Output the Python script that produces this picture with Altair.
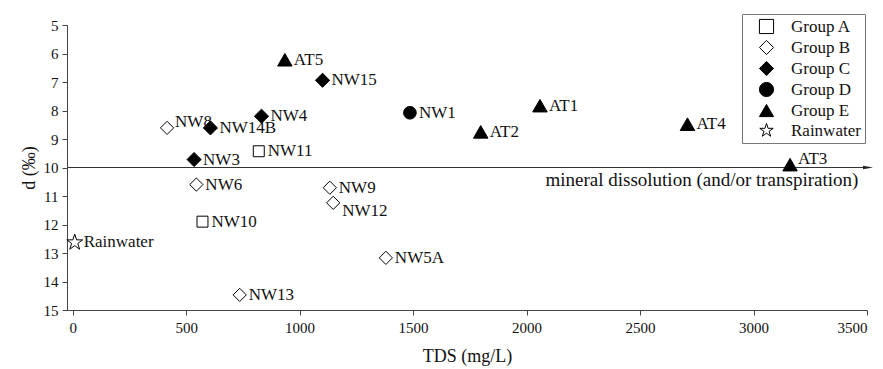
import altair as alt
import pandas as pd

# ---- data ----
labels = ["NW11", "NW10",
          "NW8", "NW6", "NW9", "NW12", "NW5A", "NW13",
          "NW14B", "NW4", "NW3", "NW15",
          "NW1",
          "AT5", "AT1", "AT2", "AT4", "AT3",
          "Rainwater"]
groups = ["Group A", "Group A",
          "Group B", "Group B", "Group B", "Group B", "Group B", "Group B",
          "Group C", "Group C", "Group C", "Group C",
          "Group D",
          "Group E", "Group E", "Group E", "Group E", "Group E",
          "Rainwater"]
tds = [820, 572,
       416, 545, 1133, 1148, 1380, 736,
       607, 832, 535, 1101,
       1486,
       935, 2059, 1798, 2709, 3161,
       9]
delta = [9.43, 11.9,
         8.61, 10.6, 10.71, 11.24, 13.17, 14.47,
         8.61, 8.2, 9.72, 6.94,
         8.08,
         6.22, 7.83, 8.75, 8.48, 9.9,
         12.63]

STAR = ("M0,-1L0.225,-0.309L0.951,-0.309L0.363,0.118L0.588,0.809L0,0.382"
        "L-0.588,0.809L-0.363,0.118L-0.951,-0.309L-0.225,-0.309Z")
group_order = ["Group A", "Group B", "Group C", "Group D", "Group E", "Rainwater"]
group_shapes = ["square", "diamond", "diamond", "circle", "triangle-up", STAR]
group_fills = ["white", "white", "black", "black", "black", "white"]
group_strokes = ["black", "black", "black", "black", "black", "black"]
group_sizes = [120, 175, 200, 160, 210, 280]

labels_above = ["NW8", "AT3"]
labels_below = ["NW12"]

arrow_y = [10]
arrow_x = [-25, 3500]
note_text = ["mineral dissolution (and/or transpiration)"]
note_x = [3462]
note_y = [10.45]

df = pd.DataFrame({"label": labels, "group": groups, "tds": tds, "d": delta})

FONT = "Liberation Serif"
LBL = 17
xscale = alt.Scale(domain=[-25, 3500], nice=False, zero=False)
yscale = alt.Scale(domain=[5, 15], reverse=True, nice=False, zero=False)
xaxis = alt.Axis(title="TDS (mg/L)", values=[0, 500, 1000, 1500, 2000, 2500, 3000, 3500],
                 format="d", grid=False, titlePadding=12, orient="bottom", labelPadding=5)
yaxis = alt.Axis(title="d (‰)", values=list(range(5, 16)), grid=False,
                 titlePadding=5, orient="left", labelOverlap=False, labelPadding=4)

legend = alt.Legend(
    title=None, orient="none", legendX=675, legendY=-11,
    strokeColor="#777", fillColor="white", padding=4,
    labelFont=FONT, labelFontSize=17, labelColor="#111",
    symbolSize=200, symbolStrokeWidth=1, symbolOpacity=1,
    symbolOffset=12, labelOffset=16, rowPadding=2,
)


def X(field="tds"):
    return alt.X(f"{field}:Q", scale=xscale, axis=xaxis)


def Y(field="d"):
    return alt.Y(f"{field}:Q", scale=yscale, axis=yaxis)


# arrow line at d = 10
line_df = pd.DataFrame({"tds": [arrow_x[0]], "tds2": [arrow_x[1]], "d": arrow_y})
line = alt.Chart(line_df).mark_rule(color="#333", strokeWidth=1).encode(
    x=X(), x2="tds2:Q", y=Y())
head_df = pd.DataFrame({"tds": [arrow_x[1]], "d": arrow_y})
head = alt.Chart(head_df).mark_point(
    shape="M-1,-0.35L1,0L-1,0.35Z", filled=True, color="#222", size=100, opacity=1, xOffset=1
).encode(x=X(), y=Y())

note_df = pd.DataFrame({"tds": note_x, "d": note_y, "t": note_text})
note = alt.Chart(note_df).mark_text(
    align="right", baseline="middle", font=FONT, fontSize=19, color="#111"
).encode(x=X(), y=Y(), text="t:N")

shape_enc = alt.Shape("group:N", scale=alt.Scale(domain=group_order, range=group_shapes),
                      legend=legend)
fill_enc = alt.Fill("group:N", scale=alt.Scale(domain=group_order, range=group_fills),
                    legend=legend)
stroke_enc = alt.Stroke("group:N", scale=alt.Scale(domain=group_order, range=group_strokes),
                        legend=legend)

point_layers = []
for g, s in zip(group_order, group_sizes):
    point_layers.append(
        alt.Chart(df).transform_filter(alt.datum.group == g)
        .mark_point(strokeWidth=1, opacity=1, fillOpacity=1, size=s)
        .encode(x=X(), y=Y(), shape=shape_enc, fill=fill_enc, stroke=stroke_enc)
    )

base_text = alt.Chart(df).encode(x=X(), y=Y(), text="label:N")
txt_mid = base_text.transform_filter(
    ~alt.FieldOneOfPredicate(field="label", oneOf=labels_above + labels_below)
).mark_text(align="left", baseline="middle", dx=9, font=FONT, fontSize=LBL, color="#111")
txt_up = base_text.transform_filter(
    alt.FieldOneOfPredicate(field="label", oneOf=labels_above)
).mark_text(align="left", baseline="middle", dx=8, dy=-6, font=FONT, fontSize=LBL, color="#111")
txt_dn = base_text.transform_filter(
    alt.FieldOneOfPredicate(field="label", oneOf=labels_below)
).mark_text(align="left", baseline="middle", dx=9, dy=8, font=FONT, fontSize=LBL, color="#111")

chart = alt.layer(line, head, note, *point_layers, txt_mid, txt_up, txt_dn).properties(
    width=800, height=285,
    autosize=alt.AutoSizeParams(type="none"),
    padding={"left": 67, "top": 25, "right": 16, "bottom": 59},
).configure(font=FONT).configure_view(stroke=None).configure_axis(
    labelFont=FONT, titleFont=FONT, labelFontSize=15, titleFontSize=18,
    labelColor="#111", titleColor="#111", titleFontWeight="normal",
    domainColor="#444", tickColor="#444", tickSize=5,
).configure_legend(labelFont=FONT)

chart.save("out.html", embed_options={"renderer": "svg", "actions": False})
